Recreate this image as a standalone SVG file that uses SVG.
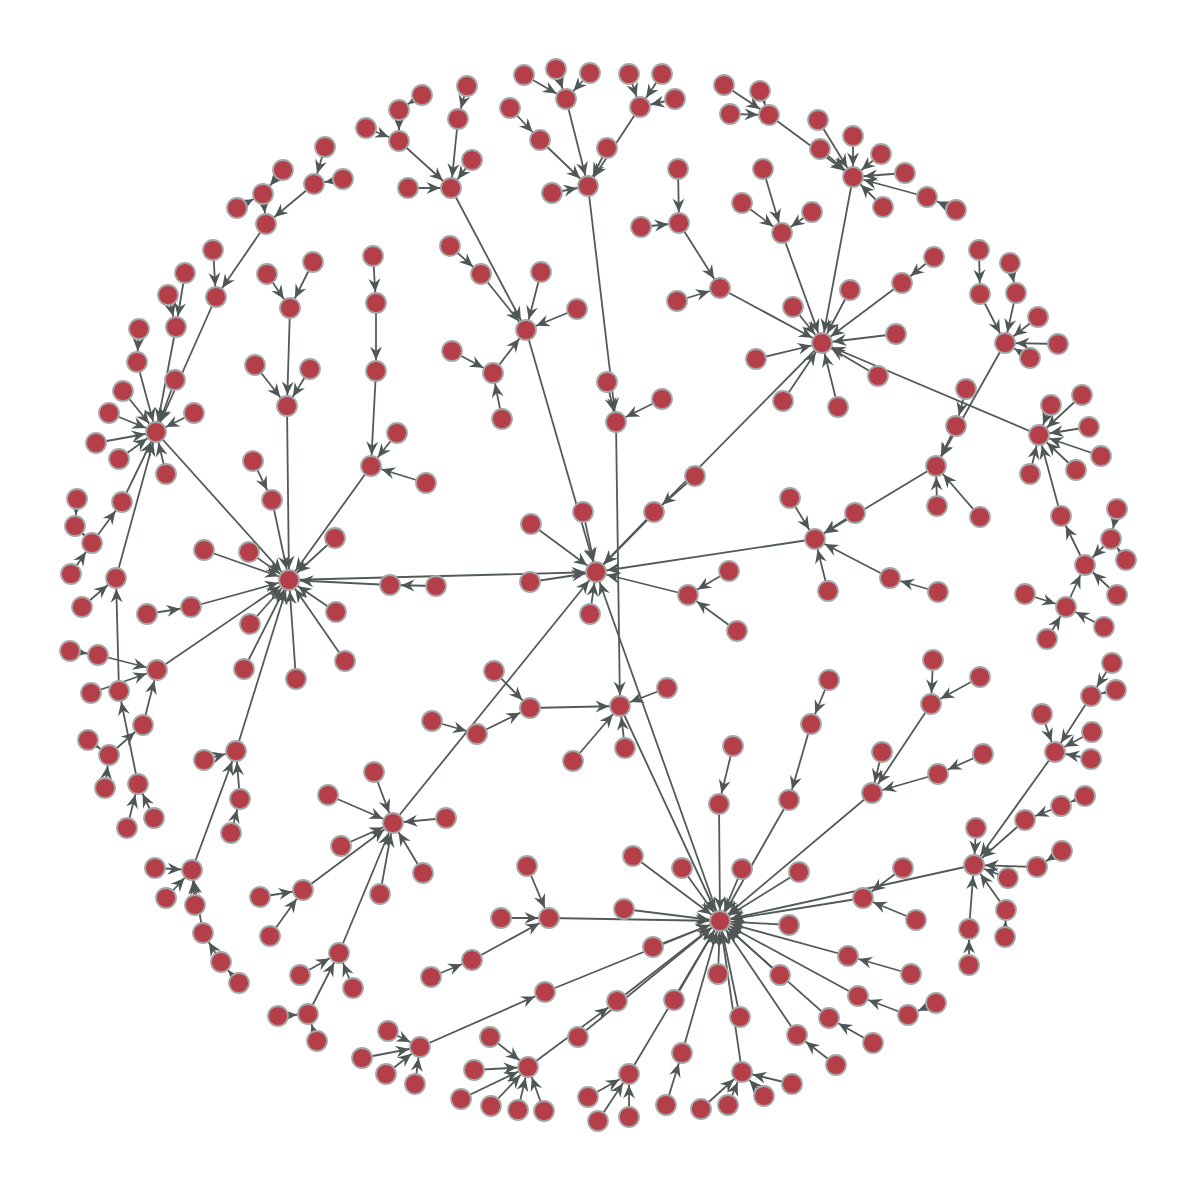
<svg xmlns="http://www.w3.org/2000/svg" width="1200" height="1192" viewBox="0 0 1200 1192">
<defs>
<style>
.e path{stroke:#535a5a;stroke-width:1.8;fill:none;marker-end:url(#arr)}
.n circle{fill:#b43f48;stroke:#a6a6a6;stroke-width:1.8}
</style>
<marker id="arr" viewBox="-30 -10 30 20" markerWidth="30" markerHeight="20" refX="0" refY="0" orient="auto" markerUnits="userSpaceOnUse">
<path d="M-24.5,-6 L-11,0 L-24.5,6 L-20,0 Z" fill="#4f5656"/>
</marker>
</defs>
<rect width="1200" height="1192" fill="#ffffff"/>
<g id="connectors" class="e">
<path d="M524 75L566 99"/><path d="M556 69L566 99"/><path d="M590 73L566 99"/><path d="M566 99L588 186"/>
<path d="M629 74L640 107"/><path d="M662 74L640 107"/><path d="M675 99L640 107"/><path d="M640 107L588 186"/>
<path d="M510 108L540 140"/><path d="M540 140L588 186"/><path d="M552 193L588 186"/><path d="M607 148L588 186"/>
<path d="M588 186L616 422"/><path d="M607 382L616 422"/><path d="M662 399L616 422"/><path d="M616 422L620 706"/>
<path d="M667 688L620 706"/><path d="M625 748L620 706"/><path d="M573 761L620 706"/><path d="M530 708L620 706"/>
<path d="M494 671L530 708"/><path d="M477 734L530 708"/><path d="M432 721L477 734"/><path d="M620 706L720 921"/>
<path d="M467 86L458 119"/><path d="M458 119L451 188"/><path d="M472 160L451 188"/><path d="M408 188L451 188"/>
<path d="M399 141L451 188"/><path d="M399 110L399 141"/><path d="M422 95L399 110"/><path d="M366 128L399 141"/>
<path d="M451 188L526 330"/><path d="M481 274L526 330"/><path d="M450 246L481 274"/><path d="M541 272L526 330"/>
<path d="M577 309L526 330"/><path d="M493 373L526 330"/><path d="M452 351L493 373"/><path d="M502 419L493 373"/>
<path d="M526 330L596 572"/><path d="M583 512L596 572"/><path d="M531 524L596 572"/><path d="M530 582L596 572"/>
<path d="M590 614L596 572"/><path d="M654 512L596 572"/><path d="M695 476L654 512"/><path d="M688 595L596 572"/>
<path d="M729 571L688 595"/><path d="M737 631L688 595"/><path d="M822 343L596 572"/><path d="M815 539L596 572"/>
<path d="M790 498L815 539"/><path d="M828 591L815 539"/><path d="M890 578L815 539"/><path d="M938 592L890 578"/>
<path d="M855 513L815 539"/><path d="M936 466L815 539"/><path d="M937 506L936 466"/><path d="M980 517L936 466"/>
<path d="M956 426L936 466"/><path d="M966 389L956 426"/>
<path d="M289 580L596 572"/><path d="M393 823L596 572"/><path d="M720 921L596 572"/>
<path d="M1005 343L936 466"/><path d="M980 294L1005 343"/><path d="M979 250L980 294"/><path d="M1016 293L1005 343"/>
<path d="M1010 263L1016 293"/><path d="M1038 317L1005 343"/><path d="M1058 344L1005 343"/><path d="M1030 358L1005 343"/>
<path d="M720 288L822 343"/><path d="M679 223L720 288"/><path d="M678 169L679 223"/><path d="M641 227L679 223"/>
<path d="M677 301L720 288"/><path d="M782 233L822 343"/><path d="M763 169L782 233"/><path d="M742 203L782 233"/>
<path d="M812 212L782 233"/><path d="M793 307L822 343"/><path d="M850 290L822 343"/><path d="M902 283L822 343"/>
<path d="M934 257L902 283"/><path d="M896 334L822 343"/><path d="M878 376L822 343"/><path d="M838 407L822 343"/>
<path d="M783 401L822 343"/><path d="M756 359L822 343"/>
<path d="M853 177L822 343"/><path d="M769 115L853 177"/><path d="M724 85L769 115"/><path d="M760 91L769 115"/>
<path d="M730 114L769 115"/><path d="M818 120L853 177"/><path d="M853 136L853 177"/><path d="M881 154L853 177"/>
<path d="M905 173L853 177"/><path d="M927 197L853 177"/><path d="M956 210L927 197"/><path d="M883 207L853 177"/>
<path d="M820 149L853 177"/>
<path d="M1039 435L822 343"/><path d="M1051 405L1039 435"/><path d="M1082 395L1039 435"/><path d="M1089 427L1039 435"/>
<path d="M1101 456L1039 435"/><path d="M1076 470L1039 435"/><path d="M1030 474L1039 435"/><path d="M1061 516L1039 435"/>
<path d="M1085 565L1061 516"/><path d="M1111 539L1085 565"/><path d="M1117 509L1111 539"/><path d="M1126 560L1111 539"/>
<path d="M1117 595L1085 565"/><path d="M1066 607L1085 565"/><path d="M1025 594L1066 607"/><path d="M1104 627L1066 607"/>
<path d="M1047 639L1066 607"/>
<path d="M204 550L289 580"/><path d="M249 552L289 580"/><path d="M335 538L289 580"/><path d="M250 624L289 580"/>
<path d="M244 669L289 580"/><path d="M296 679L289 580"/><path d="M336 612L289 580"/><path d="M345 661L289 580"/>
<path d="M191 607L289 580"/><path d="M147 614L191 607"/><path d="M272 500L289 580"/><path d="M253 461L272 500"/>
<path d="M287 406L289 580"/><path d="M255 365L287 406"/><path d="M310 369L287 406"/><path d="M290 308L287 406"/>
<path d="M267 274L290 308"/><path d="M313 262L290 308"/>
<path d="M371 466L289 580"/><path d="M397 433L371 466"/><path d="M426 483L371 466"/><path d="M376 371L371 466"/>
<path d="M376 303L376 371"/><path d="M373 256L376 303"/><path d="M390 585L289 580"/><path d="M436 586L390 585"/>
<path d="M157 670L289 580"/><path d="M98 655L157 670"/><path d="M70 651L98 655"/><path d="M91 693L157 670"/>
<path d="M143 725L157 670"/><path d="M109 755L143 725"/><path d="M88 740L109 755"/><path d="M105 788L109 755"/>
<path d="M119 691L116 578"/><path d="M138 784L119 691"/><path d="M127 828L138 784"/><path d="M154 818L138 784"/>
<path d="M116 578L156 432"/><path d="M82 607L116 578"/>
<path d="M156 432L289 580"/>
<path d="M122 502L156 432"/><path d="M92 543L122 502"/><path d="M71 574L92 543"/><path d="M75 526L92 543"/>
<path d="M77 499L75 526"/><path d="M96 443L156 432"/><path d="M119 459L156 432"/><path d="M166 474L156 432"/>
<path d="M194 413L156 432"/><path d="M109 413L156 432"/><path d="M123 391L156 432"/><path d="M137 362L156 432"/>
<path d="M139 329L137 362"/><path d="M176 327L156 432"/><path d="M185 273L176 327"/><path d="M168 295L176 327"/>
<path d="M175 380L156 432"/><path d="M216 297L156 432"/><path d="M213 250L216 297"/><path d="M266 224L216 297"/>
<path d="M263 194L266 224"/><path d="M283 170L263 194"/><path d="M237 208L263 194"/><path d="M314 184L266 224"/>
<path d="M325 147L314 184"/><path d="M343 179L314 184"/>
<path d="M236 751L289 580"/><path d="M204 760L236 751"/><path d="M240 799L236 751"/><path d="M231 833L240 799"/>
<path d="M192 870L236 751"/><path d="M155 868L192 870"/><path d="M166 898L192 870"/><path d="M195 905L192 870"/>
<path d="M203 933L192 870"/><path d="M221 962L203 933"/><path d="M239 983L221 962"/>
<path d="M374 772L393 823"/><path d="M328 795L393 823"/><path d="M341 846L393 823"/><path d="M446 818L393 823"/>
<path d="M423 873L393 823"/><path d="M380 894L393 823"/><path d="M303 890L393 823"/><path d="M260 897L303 890"/>
<path d="M270 936L303 890"/><path d="M339 953L393 823"/><path d="M300 975L339 953"/><path d="M353 988L339 953"/>
<path d="M308 1014L339 953"/><path d="M278 1016L308 1014"/><path d="M317 1041L308 1014"/>
<path d="M549 918L720 921"/><path d="M527 866L549 918"/><path d="M501 918L549 918"/><path d="M472 960L549 918"/>
<path d="M431 977L472 960"/>
<path d="M420 1047L545 992"/><path d="M388 1031L420 1047"/><path d="M362 1058L420 1047"/><path d="M386 1074L420 1047"/>
<path d="M415 1084L420 1047"/><path d="M545 992L720 921"/>
<path d="M528 1067L617 1001"/><path d="M490 1037L528 1067"/><path d="M474 1070L528 1067"/><path d="M461 1099L528 1067"/>
<path d="M491 1106L528 1067"/><path d="M518 1110L528 1067"/><path d="M544 1111L528 1067"/><path d="M617 1001L720 921"/>
<path d="M578 1037L720 921"/>
<path d="M719 804L720 921"/><path d="M733 746L719 804"/><path d="M789 800L720 921"/><path d="M811 724L789 800"/>
<path d="M829 680L811 724"/><path d="M872 793L720 921"/><path d="M931 704L872 793"/><path d="M933 660L931 704"/>
<path d="M980 677L931 704"/><path d="M882 752L872 793"/><path d="M938 774L872 793"/><path d="M983 754L938 774"/>
<path d="M633 856L720 921"/><path d="M682 868L720 921"/><path d="M742 869L720 921"/><path d="M799 872L720 921"/>
<path d="M624 909L720 921"/><path d="M789 925L720 921"/><path d="M653 947L720 921"/><path d="M718 974L720 921"/>
<path d="M780 975L720 921"/><path d="M674 1000L720 921"/><path d="M740 1017L720 921"/>
<path d="M863 898L720 921"/><path d="M903 868L863 898"/><path d="M916 920L863 898"/>
<path d="M974 865L720 921"/><path d="M976 828L974 865"/><path d="M1025 820L974 865"/><path d="M1061 806L1025 820"/>
<path d="M1085 796L1061 806"/><path d="M1037 867L974 865"/><path d="M1062 851L1037 867"/><path d="M1008 878L974 865"/>
<path d="M1006 910L974 865"/><path d="M1005 937L1006 910"/><path d="M969 929L974 865"/><path d="M969 965L969 929"/>
<path d="M1055 752L974 865"/><path d="M1042 714L1055 752"/><path d="M1091 696L1055 752"/><path d="M1112 663L1091 696"/>
<path d="M1116 690L1091 696"/><path d="M1092 732L1055 752"/><path d="M1091 759L1055 752"/>
<path d="M848 956L720 921"/><path d="M911 974L848 956"/><path d="M858 996L720 921"/><path d="M908 1015L858 996"/>
<path d="M936 1003L908 1015"/><path d="M829 1018L720 921"/><path d="M873 1043L829 1018"/><path d="M797 1035L720 921"/>
<path d="M836 1065L797 1035"/>
<path d="M742 1072L720 921"/><path d="M792 1084L742 1072"/><path d="M764 1096L742 1072"/><path d="M728 1105L742 1072"/>
<path d="M701 1109L742 1072"/><path d="M682 1053L720 921"/><path d="M666 1105L682 1053"/><path d="M629 1074L720 921"/>
<path d="M588 1097L629 1074"/><path d="M598 1121L629 1074"/><path d="M629 1117L629 1074"/>
</g>
<g class="n">
<g id="C0"><circle cx="596" cy="572" r="10"/></g>
<g id="B"><circle cx="720" cy="921" r="10"/></g>
<g id="L"><circle cx="289" cy="580" r="10"/></g>
<g id="R4"><circle cx="822" cy="343" r="10"/></g>
<g id="a1"><circle cx="566" cy="99" r="10"/></g>
<g id="a2"><circle cx="524" cy="75" r="10"/></g>
<g id="a3"><circle cx="556" cy="69" r="10"/></g>
<g id="a4"><circle cx="590" cy="73" r="10"/></g>
<g id="a5"><circle cx="640" cy="107" r="10"/></g>
<g id="a6"><circle cx="629" cy="74" r="10"/></g>
<g id="a7"><circle cx="662" cy="74" r="10"/></g>
<g id="a8"><circle cx="675" cy="99" r="10"/></g>
<g id="a9"><circle cx="588" cy="186" r="10"/></g>
<g id="a10"><circle cx="540" cy="140" r="10"/></g>
<g id="a11"><circle cx="510" cy="108" r="10"/></g>
<g id="a12"><circle cx="552" cy="193" r="10"/></g>
<g id="a13"><circle cx="607" cy="148" r="10"/></g>
<g id="b1"><circle cx="616" cy="422" r="10"/></g>
<g id="b2"><circle cx="607" cy="382" r="10"/></g>
<g id="b3"><circle cx="662" cy="399" r="10"/></g>
<g id="b4"><circle cx="620" cy="706" r="10"/></g>
<g id="b5"><circle cx="667" cy="688" r="10"/></g>
<g id="b6"><circle cx="625" cy="748" r="10"/></g>
<g id="b7"><circle cx="573" cy="761" r="10"/></g>
<g id="b8"><circle cx="530" cy="708" r="10"/></g>
<g id="b9"><circle cx="494" cy="671" r="10"/></g>
<g id="b10"><circle cx="477" cy="734" r="10"/></g>
<g id="b11"><circle cx="432" cy="721" r="10"/></g>
<g id="c1"><circle cx="451" cy="188" r="10"/></g>
<g id="c2"><circle cx="458" cy="119" r="10"/></g>
<g id="c3"><circle cx="467" cy="86" r="10"/></g>
<g id="c4"><circle cx="472" cy="160" r="10"/></g>
<g id="c5"><circle cx="408" cy="188" r="10"/></g>
<g id="c6"><circle cx="399" cy="141" r="10"/></g>
<g id="c7"><circle cx="399" cy="110" r="10"/></g>
<g id="c8"><circle cx="422" cy="95" r="10"/></g>
<g id="c9"><circle cx="366" cy="128" r="10"/></g>
<g id="d1"><circle cx="526" cy="330" r="10"/></g>
<g id="d2"><circle cx="481" cy="274" r="10"/></g>
<g id="d3"><circle cx="450" cy="246" r="10"/></g>
<g id="d4"><circle cx="541" cy="272" r="10"/></g>
<g id="d5"><circle cx="577" cy="309" r="10"/></g>
<g id="d6"><circle cx="493" cy="373" r="10"/></g>
<g id="d7"><circle cx="452" cy="351" r="10"/></g>
<g id="d8"><circle cx="502" cy="419" r="10"/></g>
<g id="e1"><circle cx="583" cy="512" r="10"/></g>
<g id="e2"><circle cx="531" cy="524" r="10"/></g>
<g id="e3"><circle cx="530" cy="582" r="10"/></g>
<g id="e4"><circle cx="590" cy="614" r="10"/></g>
<g id="e5"><circle cx="654" cy="512" r="10"/></g>
<g id="e6"><circle cx="695" cy="476" r="10"/></g>
<g id="e7"><circle cx="688" cy="595" r="10"/></g>
<g id="e8"><circle cx="729" cy="571" r="10"/></g>
<g id="e9"><circle cx="737" cy="631" r="10"/></g>
<g id="f1"><circle cx="815" cy="539" r="10"/></g>
<g id="f2"><circle cx="790" cy="498" r="10"/></g>
<g id="f3"><circle cx="828" cy="591" r="10"/></g>
<g id="f4"><circle cx="890" cy="578" r="10"/></g>
<g id="f5"><circle cx="938" cy="592" r="10"/></g>
<g id="f6"><circle cx="855" cy="513" r="10"/></g>
<g id="f7"><circle cx="936" cy="466" r="10"/></g>
<g id="f8"><circle cx="937" cy="506" r="10"/></g>
<g id="f9"><circle cx="980" cy="517" r="10"/></g>
<g id="f10"><circle cx="956" cy="426" r="10"/></g>
<g id="f11"><circle cx="966" cy="389" r="10"/></g>
<g id="g1"><circle cx="1005" cy="343" r="10"/></g>
<g id="g2"><circle cx="980" cy="294" r="10"/></g>
<g id="g3"><circle cx="979" cy="250" r="10"/></g>
<g id="g4"><circle cx="1016" cy="293" r="10"/></g>
<g id="g5"><circle cx="1010" cy="263" r="10"/></g>
<g id="g6"><circle cx="1038" cy="317" r="10"/></g>
<g id="g7"><circle cx="1058" cy="344" r="10"/></g>
<g id="g8"><circle cx="1030" cy="358" r="10"/></g>
<g id="h2"><circle cx="720" cy="288" r="10"/></g>
<g id="h3"><circle cx="679" cy="223" r="10"/></g>
<g id="h4"><circle cx="678" cy="169" r="10"/></g>
<g id="h5"><circle cx="641" cy="227" r="10"/></g>
<g id="h6"><circle cx="677" cy="301" r="10"/></g>
<g id="h7"><circle cx="782" cy="233" r="10"/></g>
<g id="h8"><circle cx="763" cy="169" r="10"/></g>
<g id="h9"><circle cx="742" cy="203" r="10"/></g>
<g id="h10"><circle cx="812" cy="212" r="10"/></g>
<g id="h11"><circle cx="793" cy="307" r="10"/></g>
<g id="h12"><circle cx="850" cy="290" r="10"/></g>
<g id="h13"><circle cx="902" cy="283" r="10"/></g>
<g id="h14"><circle cx="934" cy="257" r="10"/></g>
<g id="h15"><circle cx="896" cy="334" r="10"/></g>
<g id="h16"><circle cx="878" cy="376" r="10"/></g>
<g id="h17"><circle cx="838" cy="407" r="10"/></g>
<g id="h18"><circle cx="783" cy="401" r="10"/></g>
<g id="h19"><circle cx="756" cy="359" r="10"/></g>
<g id="k1"><circle cx="853" cy="177" r="10"/></g>
<g id="k2"><circle cx="769" cy="115" r="10"/></g>
<g id="k3"><circle cx="724" cy="85" r="10"/></g>
<g id="k4"><circle cx="760" cy="91" r="10"/></g>
<g id="k5"><circle cx="730" cy="114" r="10"/></g>
<g id="k6"><circle cx="818" cy="120" r="10"/></g>
<g id="k7"><circle cx="853" cy="136" r="10"/></g>
<g id="k8"><circle cx="881" cy="154" r="10"/></g>
<g id="k9"><circle cx="905" cy="173" r="10"/></g>
<g id="k10"><circle cx="927" cy="197" r="10"/></g>
<g id="k11"><circle cx="956" cy="210" r="10"/></g>
<g id="k12"><circle cx="883" cy="207" r="10"/></g>
<g id="k13"><circle cx="820" cy="149" r="10"/></g>
<g id="m1"><circle cx="1039" cy="435" r="10"/></g>
<g id="m2"><circle cx="1051" cy="405" r="10"/></g>
<g id="m3"><circle cx="1082" cy="395" r="10"/></g>
<g id="m4"><circle cx="1089" cy="427" r="10"/></g>
<g id="m5"><circle cx="1101" cy="456" r="10"/></g>
<g id="m6"><circle cx="1076" cy="470" r="10"/></g>
<g id="m7"><circle cx="1030" cy="474" r="10"/></g>
<g id="m8"><circle cx="1061" cy="516" r="10"/></g>
<g id="m9"><circle cx="1085" cy="565" r="10"/></g>
<g id="m10"><circle cx="1111" cy="539" r="10"/></g>
<g id="m11"><circle cx="1117" cy="509" r="10"/></g>
<g id="m12"><circle cx="1126" cy="560" r="10"/></g>
<g id="m13"><circle cx="1117" cy="595" r="10"/></g>
<g id="m14"><circle cx="1066" cy="607" r="10"/></g>
<g id="m15"><circle cx="1025" cy="594" r="10"/></g>
<g id="m16"><circle cx="1104" cy="627" r="10"/></g>
<g id="m17"><circle cx="1047" cy="639" r="10"/></g>
<g id="l1"><circle cx="204" cy="550" r="10"/></g>
<g id="l2"><circle cx="249" cy="552" r="10"/></g>
<g id="l3"><circle cx="335" cy="538" r="10"/></g>
<g id="l4"><circle cx="250" cy="624" r="10"/></g>
<g id="l5"><circle cx="244" cy="669" r="10"/></g>
<g id="l6"><circle cx="296" cy="679" r="10"/></g>
<g id="l7"><circle cx="336" cy="612" r="10"/></g>
<g id="l8"><circle cx="345" cy="661" r="10"/></g>
<g id="l9"><circle cx="191" cy="607" r="10"/></g>
<g id="l10"><circle cx="147" cy="614" r="10"/></g>
<g id="l11"><circle cx="272" cy="500" r="10"/></g>
<g id="l12"><circle cx="253" cy="461" r="10"/></g>
<g id="l13"><circle cx="287" cy="406" r="10"/></g>
<g id="l14"><circle cx="255" cy="365" r="10"/></g>
<g id="l15"><circle cx="310" cy="369" r="10"/></g>
<g id="l16"><circle cx="290" cy="308" r="10"/></g>
<g id="l17"><circle cx="267" cy="274" r="10"/></g>
<g id="l18"><circle cx="313" cy="262" r="10"/></g>
<g id="l19"><circle cx="371" cy="466" r="10"/></g>
<g id="l20"><circle cx="397" cy="433" r="10"/></g>
<g id="l21"><circle cx="426" cy="483" r="10"/></g>
<g id="l22"><circle cx="376" cy="371" r="10"/></g>
<g id="l23"><circle cx="376" cy="303" r="10"/></g>
<g id="l24"><circle cx="373" cy="256" r="10"/></g>
<g id="l25"><circle cx="390" cy="585" r="10"/></g>
<g id="l26"><circle cx="436" cy="586" r="10"/></g>
<g id="n1"><circle cx="157" cy="670" r="10"/></g>
<g id="n2"><circle cx="98" cy="655" r="10"/></g>
<g id="n3"><circle cx="70" cy="651" r="10"/></g>
<g id="n4"><circle cx="91" cy="693" r="10"/></g>
<g id="n5"><circle cx="143" cy="725" r="10"/></g>
<g id="n6"><circle cx="109" cy="755" r="10"/></g>
<g id="n7"><circle cx="88" cy="740" r="10"/></g>
<g id="n8"><circle cx="105" cy="788" r="10"/></g>
<g id="n9"><circle cx="119" cy="691" r="10"/></g>
<g id="n10"><circle cx="138" cy="784" r="10"/></g>
<g id="n11"><circle cx="127" cy="828" r="10"/></g>
<g id="n12"><circle cx="154" cy="818" r="10"/></g>
<g id="o1"><circle cx="116" cy="578" r="10"/></g>
<g id="o2"><circle cx="82" cy="607" r="10"/></g>
<g id="p1"><circle cx="156" cy="432" r="10"/></g>
<g id="p2"><circle cx="122" cy="502" r="10"/></g>
<g id="p3"><circle cx="92" cy="543" r="10"/></g>
<g id="p4"><circle cx="71" cy="574" r="10"/></g>
<g id="p5"><circle cx="75" cy="526" r="10"/></g>
<g id="p6"><circle cx="77" cy="499" r="10"/></g>
<g id="p7"><circle cx="96" cy="443" r="10"/></g>
<g id="p8"><circle cx="119" cy="459" r="10"/></g>
<g id="p9"><circle cx="166" cy="474" r="10"/></g>
<g id="p10"><circle cx="194" cy="413" r="10"/></g>
<g id="p11"><circle cx="109" cy="413" r="10"/></g>
<g id="p12"><circle cx="123" cy="391" r="10"/></g>
<g id="p13"><circle cx="137" cy="362" r="10"/></g>
<g id="p14"><circle cx="139" cy="329" r="10"/></g>
<g id="p15"><circle cx="176" cy="327" r="10"/></g>
<g id="p16"><circle cx="185" cy="273" r="10"/></g>
<g id="p17"><circle cx="168" cy="295" r="10"/></g>
<g id="p18"><circle cx="175" cy="380" r="10"/></g>
<g id="p19"><circle cx="216" cy="297" r="10"/></g>
<g id="p20"><circle cx="213" cy="250" r="10"/></g>
<g id="p21"><circle cx="266" cy="224" r="10"/></g>
<g id="p22"><circle cx="263" cy="194" r="10"/></g>
<g id="p23"><circle cx="283" cy="170" r="10"/></g>
<g id="p24"><circle cx="237" cy="208" r="10"/></g>
<g id="p25"><circle cx="314" cy="184" r="10"/></g>
<g id="p26"><circle cx="325" cy="147" r="10"/></g>
<g id="p27"><circle cx="343" cy="179" r="10"/></g>
<g id="q1"><circle cx="236" cy="751" r="10"/></g>
<g id="q2"><circle cx="204" cy="760" r="10"/></g>
<g id="q3"><circle cx="240" cy="799" r="10"/></g>
<g id="q4"><circle cx="231" cy="833" r="10"/></g>
<g id="q5"><circle cx="192" cy="870" r="10"/></g>
<g id="q6"><circle cx="155" cy="868" r="10"/></g>
<g id="q7"><circle cx="166" cy="898" r="10"/></g>
<g id="q8"><circle cx="195" cy="905" r="10"/></g>
<g id="q9"><circle cx="203" cy="933" r="10"/></g>
<g id="q10"><circle cx="221" cy="962" r="10"/></g>
<g id="q11"><circle cx="239" cy="983" r="10"/></g>
<g id="r1"><circle cx="393" cy="823" r="10"/></g>
<g id="r2"><circle cx="374" cy="772" r="10"/></g>
<g id="r3"><circle cx="328" cy="795" r="10"/></g>
<g id="r4"><circle cx="341" cy="846" r="10"/></g>
<g id="r5"><circle cx="446" cy="818" r="10"/></g>
<g id="r6"><circle cx="423" cy="873" r="10"/></g>
<g id="r7"><circle cx="380" cy="894" r="10"/></g>
<g id="r8"><circle cx="303" cy="890" r="10"/></g>
<g id="r9"><circle cx="260" cy="897" r="10"/></g>
<g id="r10"><circle cx="270" cy="936" r="10"/></g>
<g id="r11"><circle cx="339" cy="953" r="10"/></g>
<g id="r12"><circle cx="300" cy="975" r="10"/></g>
<g id="r13"><circle cx="353" cy="988" r="10"/></g>
<g id="r14"><circle cx="308" cy="1014" r="10"/></g>
<g id="r15"><circle cx="278" cy="1016" r="10"/></g>
<g id="r16"><circle cx="317" cy="1041" r="10"/></g>
<g id="s1"><circle cx="549" cy="918" r="10"/></g>
<g id="s2"><circle cx="527" cy="866" r="10"/></g>
<g id="s3"><circle cx="501" cy="918" r="10"/></g>
<g id="s4"><circle cx="472" cy="960" r="10"/></g>
<g id="s5"><circle cx="431" cy="977" r="10"/></g>
<g id="t1"><circle cx="420" cy="1047" r="10"/></g>
<g id="t2"><circle cx="388" cy="1031" r="10"/></g>
<g id="t3"><circle cx="362" cy="1058" r="10"/></g>
<g id="t4"><circle cx="386" cy="1074" r="10"/></g>
<g id="t5"><circle cx="415" cy="1084" r="10"/></g>
<g id="t6"><circle cx="545" cy="992" r="10"/></g>
<g id="u1"><circle cx="528" cy="1067" r="10"/></g>
<g id="u2"><circle cx="490" cy="1037" r="10"/></g>
<g id="u3"><circle cx="474" cy="1070" r="10"/></g>
<g id="u4"><circle cx="461" cy="1099" r="10"/></g>
<g id="u5"><circle cx="491" cy="1106" r="10"/></g>
<g id="u6"><circle cx="518" cy="1110" r="10"/></g>
<g id="u7"><circle cx="544" cy="1111" r="10"/></g>
<g id="u8"><circle cx="617" cy="1001" r="10"/></g>
<g id="u9"><circle cx="578" cy="1037" r="10"/></g>
<g id="v1"><circle cx="719" cy="804" r="10"/></g>
<g id="v2"><circle cx="733" cy="746" r="10"/></g>
<g id="v3"><circle cx="789" cy="800" r="10"/></g>
<g id="v4"><circle cx="811" cy="724" r="10"/></g>
<g id="v5"><circle cx="829" cy="680" r="10"/></g>
<g id="v6"><circle cx="872" cy="793" r="10"/></g>
<g id="v7"><circle cx="931" cy="704" r="10"/></g>
<g id="v8"><circle cx="933" cy="660" r="10"/></g>
<g id="v9"><circle cx="980" cy="677" r="10"/></g>
<g id="v10"><circle cx="882" cy="752" r="10"/></g>
<g id="v11"><circle cx="938" cy="774" r="10"/></g>
<g id="v12"><circle cx="983" cy="754" r="10"/></g>
<g id="w1"><circle cx="633" cy="856" r="10"/></g>
<g id="w2"><circle cx="682" cy="868" r="10"/></g>
<g id="w3"><circle cx="742" cy="869" r="10"/></g>
<g id="w4"><circle cx="799" cy="872" r="10"/></g>
<g id="w5"><circle cx="624" cy="909" r="10"/></g>
<g id="w6"><circle cx="789" cy="925" r="10"/></g>
<g id="w7"><circle cx="653" cy="947" r="10"/></g>
<g id="w8"><circle cx="718" cy="974" r="10"/></g>
<g id="w9"><circle cx="780" cy="975" r="10"/></g>
<g id="w10"><circle cx="674" cy="1000" r="10"/></g>
<g id="w11"><circle cx="740" cy="1017" r="10"/></g>
<g id="x1"><circle cx="863" cy="898" r="10"/></g>
<g id="x2"><circle cx="903" cy="868" r="10"/></g>
<g id="x3"><circle cx="916" cy="920" r="10"/></g>
<g id="y1"><circle cx="974" cy="865" r="10"/></g>
<g id="y2"><circle cx="976" cy="828" r="10"/></g>
<g id="y3"><circle cx="1025" cy="820" r="10"/></g>
<g id="y4"><circle cx="1061" cy="806" r="10"/></g>
<g id="y5"><circle cx="1085" cy="796" r="10"/></g>
<g id="y6"><circle cx="1037" cy="867" r="10"/></g>
<g id="y7"><circle cx="1062" cy="851" r="10"/></g>
<g id="y8"><circle cx="1008" cy="878" r="10"/></g>
<g id="y9"><circle cx="1006" cy="910" r="10"/></g>
<g id="y10"><circle cx="1005" cy="937" r="10"/></g>
<g id="y11"><circle cx="969" cy="929" r="10"/></g>
<g id="y12"><circle cx="969" cy="965" r="10"/></g>
<g id="z1"><circle cx="1055" cy="752" r="10"/></g>
<g id="z2"><circle cx="1042" cy="714" r="10"/></g>
<g id="z3"><circle cx="1091" cy="696" r="10"/></g>
<g id="z4"><circle cx="1112" cy="663" r="10"/></g>
<g id="z5"><circle cx="1116" cy="690" r="10"/></g>
<g id="z6"><circle cx="1092" cy="732" r="10"/></g>
<g id="z7"><circle cx="1091" cy="759" r="10"/></g>
<g id="aa1"><circle cx="848" cy="956" r="10"/></g>
<g id="aa2"><circle cx="911" cy="974" r="10"/></g>
<g id="aa3"><circle cx="858" cy="996" r="10"/></g>
<g id="aa4"><circle cx="908" cy="1015" r="10"/></g>
<g id="aa5"><circle cx="936" cy="1003" r="10"/></g>
<g id="aa6"><circle cx="829" cy="1018" r="10"/></g>
<g id="aa7"><circle cx="873" cy="1043" r="10"/></g>
<g id="aa8"><circle cx="797" cy="1035" r="10"/></g>
<g id="aa9"><circle cx="836" cy="1065" r="10"/></g>
<g id="bb1"><circle cx="742" cy="1072" r="10"/></g>
<g id="bb2"><circle cx="792" cy="1084" r="10"/></g>
<g id="bb3"><circle cx="764" cy="1096" r="10"/></g>
<g id="bb4"><circle cx="728" cy="1105" r="10"/></g>
<g id="bb5"><circle cx="701" cy="1109" r="10"/></g>
<g id="bb6"><circle cx="682" cy="1053" r="10"/></g>
<g id="bb7"><circle cx="666" cy="1105" r="10"/></g>
<g id="bb8"><circle cx="629" cy="1074" r="10"/></g>
<g id="bb9"><circle cx="588" cy="1097" r="10"/></g>
<g id="bb10"><circle cx="598" cy="1121" r="10"/></g>
<g id="bb11"><circle cx="629" cy="1117" r="10"/></g>
</g>
</svg>
